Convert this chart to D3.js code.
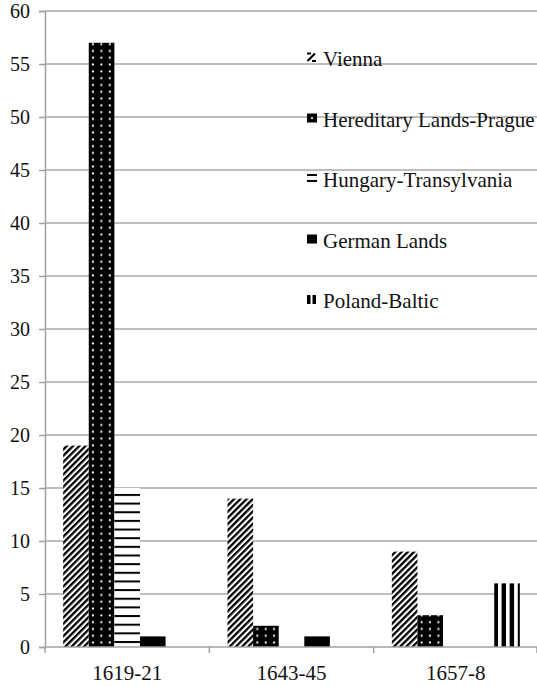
<!DOCTYPE html>
<html>
<head>
<meta charset="utf-8">
<script src="https://cdn.jsdelivr.net/npm/d3@7"></script>
</head>
<body style="margin:0;background:#fff;font-family:'Liberation Serif';font-size:21px">
<svg id="chart" width="537" height="686" style="display:block"></svg>
<script>
// Periods on the x axis
const periods = ["1619-21", "1643-45", "1657-8"];
// Regions (one bar per region within each period)
const regions = ["Vienna", "Hereditary Lands-Prague", "Hungary-Transylvania", "German Lands", "Poland-Baltic"];
// Counts per region, in period order
const vienna     = [19, 14, 9];
const hereditary = [57, 2, 3];
const hungary    = [15, 0, 0];
const german     = [1, 1, 0];
const poland     = [0, 0, 6];
const seriesValues = [vienna, hereditary, hungary, german, poland];
// Y axis ticks
const yTicks = [0, 5, 10, 15, 20, 25, 30, 35, 40, 45, 50, 55, 60];

const serifFont = "Liberation Serif";

function draw() {
  const svg = d3.select("#chart");
  svg.selectAll("*").remove();
  const plotLeft = 45, plotRight = 538, plotTop = 11, plotBottom = 647;

  const x0 = d3.scaleBand().domain(periods).range([plotLeft, plotRight])
    .paddingInner(0.221).paddingOuter(0.1105);
  const x1 = d3.scaleBand().domain(regions).range([0, x0.bandwidth()]);
  const y = d3.scaleLinear().domain([0, 60]).range([plotBottom, plotTop]);

  // Fill patterns for each region
  const defs = svg.append("defs");
  const fills = {};

  // Vienna: diagonal hatching
  const pDiag = defs.append("pattern").attr("id", "p-diag")
    .attr("patternUnits", "userSpaceOnUse").attr("width", 4.4).attr("height", 4.4)
    .attr("patternTransform", "rotate(45)");
  pDiag.append("rect").attr("width", 4.4).attr("height", 4.4).attr("fill", "#fff");
  pDiag.append("rect").attr("width", 2.3).attr("height", 4.4).attr("fill", "#000");
  fills["Vienna"] = "url(#p-diag)";

  // Hereditary Lands: black with white dots
  const pDots = defs.append("pattern").attr("id", "p-dots")
    .attr("patternUnits", "userSpaceOnUse").attr("width", 8.4).attr("height", 6.8);
  pDots.append("rect").attr("width", 8.4).attr("height", 6.8).attr("fill", "#000");
  pDots.append("circle").attr("cx", 4.6).attr("cy", 3.4).attr("r", 1.1).attr("fill", "#fff");
  fills["Hereditary Lands-Prague"] = "url(#p-dots)";

  // Hungary: horizontal rules
  const hStep = 8.65;
  const pHoriz = defs.append("pattern").attr("id", "p-horiz")
    .attr("patternUnits", "userSpaceOnUse").attr("width", 10).attr("height", hStep)
    .attr("y", y(0) - 6);
  pHoriz.append("rect").attr("width", 10).attr("height", hStep).attr("fill", "#fff");
  pHoriz.append("rect").attr("y", 0).attr("width", 10).attr("height", 2).attr("fill", "#000");
  fills["Hungary-Transylvania"] = "url(#p-horiz)";

  // German Lands: solid
  fills["German Lands"] = "#000";

  // Poland: vertical bars, aligned to each bar's left edge
  const pVert = defs.append("pattern").attr("id", "p-vert")
    .attr("patternUnits", "userSpaceOnUse").attr("width", 8.1).attr("height", 10)
    .attr("x", x1("Poland-Baltic") - 0.8);
  pVert.append("rect").attr("width", 8.1).attr("height", 10).attr("fill", "#fff");
  pVert.append("rect").attr("width", 4.5).attr("height", 10).attr("fill", "#000");
  fills["Poland-Baltic"] = "url(#p-vert)";

  // Gridlines
  svg.append("g").selectAll("line").data(yTicks.filter(d => d > 0)).join("line")
    .attr("x1", plotLeft).attr("x2", plotRight)
    .attr("y1", d => y(d)).attr("y2", d => y(d))
    .attr("stroke", "#a8a8a8").attr("stroke-width", 1.5);

  // Y axis: domain and tick marks from d3, labels as plain text
  const yAxis = svg.append("g").attr("transform", `translate(${plotLeft},0)`)
    .call(d3.axisLeft(y).tickValues(yTicks).tickSize(6).tickFormat(""));
  yAxis.select(".domain").attr("stroke", "#a0a0a0").attr("stroke-width", 1.5);
  yAxis.selectAll(".tick line").attr("stroke", "#a0a0a0").attr("stroke-width", 1.5);
  yAxis.selectAll(".tick text").remove();
  svg.append("g").selectAll("text").data(yTicks).join("text")
    .attr("x", plotLeft - 15)
    .attr("y", d => y(d) + 7)
    .attr("text-anchor", "end")
    .attr("font-family", d => serifFont)
    .attr("font-size", 20)
    .attr("fill", "#111")
    .text(d => d);

  // Bars
  const groups = svg.append("g").selectAll("g").data(periods).join("g")
    .attr("transform", d => `translate(${x0(d)},0)`);
  groups.selectAll("rect")
    .data((p, i) => regions.map((r, k) => ({ region: r, value: seriesValues[k][i] })))
    .join("rect")
    .filter(d => d.value > 0)
    .attr("x", d => x1(d.region))
    .attr("width", x1.bandwidth())
    .attr("y", d => y(d.value))
    .attr("height", d => y(0) - y(d.value))
    .attr("fill", d => fills[d.region]);

  // X axis
  const xAxisG = svg.append("g");
  xAxisG.append("line").attr("x1", plotLeft).attr("x2", plotRight)
    .attr("y1", y(0)).attr("y2", y(0))
    .attr("stroke", "#a0a0a0").attr("stroke-width", 1.5);
  const boundaries = periods.map(p => x0(p) - x0.step() * x0.paddingOuter())
    .concat([plotRight - 1]);
  xAxisG.selectAll("line.tk").data(boundaries).join("line").attr("class", "tk")
    .attr("x1", d => d).attr("x2", d => d)
    .attr("y1", y(0)).attr("y2", y(0) + 6)
    .attr("stroke", "#a0a0a0").attr("stroke-width", 1.5);
  svg.append("g").selectAll("text").data(periods).join("text")
    .attr("x", d => x0(d) + x0.bandwidth() / 2)
    .attr("y", 680)
    .attr("text-anchor", "middle")
    .attr("font-family", d => serifFont)
    .attr("font-size", 21)
    .attr("fill", "#111")
    .text(d => d);

  // Legend swatches
  const legend = svg.append("g").attr("transform", "translate(307,66)");
  const li = legend.selectAll("g").data(regions).join("g")
    .attr("transform", (d, i) => `translate(0,${i * 60.5})`);
  li.each(function(d) {
    const g = d3.select(this);
    if (d === "Vienna") {
      g.append("line").attr("x1", 0.5).attr("y1", -5).attr("x2", 8).attr("y2", -12.5)
        .attr("stroke", "#000").attr("stroke-width", 2.2);
      g.append("line").attr("x1", 0).attr("y1", -12.5).attr("x2", 4).attr("y2", -12.5)
        .attr("stroke", "#000").attr("stroke-width", 2);
      g.append("line").attr("x1", 5).attr("y1", -5).attr("x2", 9).attr("y2", -5)
        .attr("stroke", "#000").attr("stroke-width", 2);
    } else if (d === "Hereditary Lands-Prague") {
      g.append("rect").attr("x", 0).attr("y", -13).attr("width", 10).attr("height", 9).attr("fill", "#000");
      g.append("circle").attr("cx", 5).attr("cy", -8.5).attr("r", 1.1).attr("fill", "#fff");
    } else if (d === "Hungary-Transylvania") {
      g.append("rect").attr("x", 0).attr("y", -13).attr("width", 10).attr("height", 2).attr("fill", "#000");
      g.append("rect").attr("x", 0).attr("y", -7).attr("width", 10).attr("height", 2).attr("fill", "#000");
    } else if (d === "German Lands") {
      g.append("rect").attr("x", 0).attr("y", -13).attr("width", 10).attr("height", 9).attr("fill", "#000");
    } else {
      g.append("rect").attr("x", 0).attr("y", -13).attr("width", 3.5).attr("height", 9).attr("fill", "#000");
      g.append("rect").attr("x", 5.5).attr("y", -13).attr("width", 3.5).attr("height", 9).attr("fill", "#000");
    }
  });
  // Legend labels
  svg.append("g").selectAll("text").data(regions).join("text")
    .attr("x", 323)
    .attr("y", (d, i) => 66 + i * 60.5)
    .attr("font-family", d => serifFont)
    .attr("font-size", 21)
    .attr("fill", "#111")
    .text(d => d);
}

draw();
if (document.fonts && document.fonts.load) {
  document.fonts.load(`21px "${serifFont}"`).then(draw);
}
</script>
</body>
</html>
